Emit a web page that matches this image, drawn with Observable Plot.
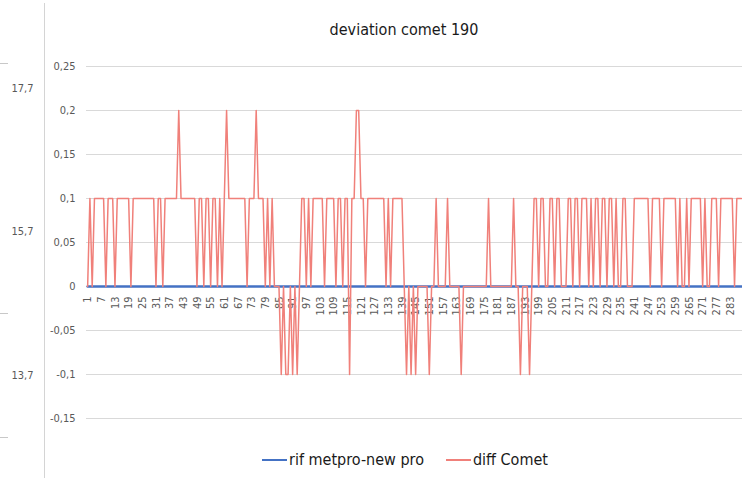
<!DOCTYPE html>
<html>
<head>
<meta charset="utf-8">
<script src="https://cdn.jsdelivr.net/npm/d3@7"></script>
<script src="https://cdn.jsdelivr.net/npm/@observablehq/plot@0.6"></script>
<style>
  html, body { margin: 0; padding: 0; background: #fff; }
  body { width: 742px; height: 478px; position: relative; overflow: hidden;
         font-family: "Liberation Sans Narrow", "DejaVu Sans Condensed", "Roboto", sans-serif; }
  #title { position: absolute; left: 0; top: 20px; width: 808px; text-align: center;
           font-size: 16px; line-height: 20px; color: #1a1a1a; }
  #chart { position: absolute; left: 0; top: 50px; }
  #vline { position: absolute; left: 44px; top: 3px; bottom: 0; width: 1px; background: #d4d4d4; }
  #legend { position: absolute; left: 0; top: 450px; width: 810px; display: flex;
            justify-content: center; gap: 22px; font-size: 16px; line-height: 20px; color: #1a1a1a; }
  .item { display: flex; align-items: center; gap: 2px; }
  .sw { width: 25px; height: 2.5px; }
  .dash { position: absolute; left: 0; width: 8px; height: 1px; background: #c8c8c8; }
</style>
</head>
<body>
<div id="vline"></div>
<div class="dash" style="top:63px"></div>
<div class="dash" style="top:313px"></div>
<div class="dash" style="top:437px"></div>
<div id="title">deviation comet 190</div>
<div id="chart"></div>
<div id="legend"></div>
<script>
// ---- data ----
const seriesNames = ["rif metpro-new pro", "diff Comet"];
const seriesColors = ["#4472c4", "#f0807a"];

// 288 values
const rifMetpro = [
0,0,0,0,0,0,0,0,0,0, 0,0,0,0,0,0,0,0,0,0, 0,0,0,0,0,0,0,0,0,0,
0,0,0,0,0,0,0,0,0,0, 0,0,0,0,0,0,0,0,0,0, 0,0,0,0,0,0,0,0,0,0,
0,0,0,0,0,0,0,0,0,0, 0,0,0,0,0,0,0,0,0,0, 0,0,0,0,0,0,0,0,0,0,
0,0,0,0,0,0,0,0,0,0, 0,0,0,0,0,0,0,0,0,0, 0,0,0,0,0,0,0,0,0,0,
0,0,0,0,0,0,0,0,0,0, 0,0,0,0,0,0,0,0,0,0, 0,0,0,0,0,0,0,0,0,0,
0,0,0,0,0,0,0,0,0,0, 0,0,0,0,0,0,0,0,0,0, 0,0,0,0,0,0,0,0,0,0,
0,0,0,0,0,0,0,0,0,0, 0,0,0,0,0,0,0,0,0,0, 0,0,0,0,0,0,0,0,0,0,
0,0,0,0,0,0,0,0,0,0, 0,0,0,0,0,0,0,0,0,0, 0,0,0,0,0,0,0,0,0,0,
0,0,0,0,0,0,0,0,0,0, 0,0,0,0,0,0,0,0,0,0, 0,0,0,0,0,0,0,0,0,0,
0,0,0,0,0,0,0,0,0,0, 0,0,0,0,0,0,0,0
];

// 288 values
const diffComet = [
0,.1,0,.1,.1,.1,.1,.1,0,.1,
.1,.1,0,.1,.1,.1,.1,.1,.1,0,
.1,.1,.1,.1,.1,.1,.1,.1,.1,.1,
0,.1,.1,0,.1,.1,.1,.1,.1,.1,
.2,.1,.1,.1,.1,.1,.1,.1,0,.1,
.1,0,.1,.1,0,.1,.1,0,.1,0,
.1,.2,.1,.1,.1,.1,.1,.1,.1,.1,
0,.1,.1,.1,.2,.1,.1,.1,0,.1,
0,.1,0,0,0,-.1,0,-.1,-.1,0,
-.1,0,-.1,0,.1,.1,0,.1,0,.1,
.1,.1,.1,.1,0,.1,.1,.1,.1,0,
.1,.1,0,.1,.1,-.1,.1,.1,.2,.2,
.1,.1,0,.1,.1,.1,.1,.1,.1,.1,
.1,0,.1,0,.1,.1,.1,.1,.1,0,
-.1,0,-.1,0,-.1,0,0,0,0,0,
-.1,0,0,.1,0,0,0,0,.1,0,
0,0,0,0,-.1,0,0,0,0,0,
0,0,0,0,0,0,.1,0,0,0,
0,0,0,0,0,0,0,.1,0,0,
-.1,0,0,0,-.1,0,.1,.1,0,.1,
.1,0,0,.1,.1,0,.1,.1,0,0,
0,.1,.1,0,.1,.1,0,.1,.1,.1,
0,.1,0,.1,.1,0,.1,.1,0,.1,
.1,0,.1,0,0,.1,.1,0,0,0,
.1,.1,.1,.1,.1,.1,.1,0,.1,.1,
.1,.1,0,.1,.1,.1,.1,.1,.1,0,
.1,0,0,.1,0,.1,.1,.1,.1,.1,
0,.1,0,0,.1,.1,.1,0,.1,.1,
.1,.1,.1,.1,0,.1,.1,.1
];

const xTickLabels = [1,7,13,19,25,31,37,43,49,55,61,67,73,79,85,91,97,103,109,115,121,127,133,139,
  145,151,157,163,169,175,181,187,193,199,205,211,217,223,229,235,241,247,253,259,265,271,277,283];
const yTicks = [-0.15, -0.1, -0.05, 0, 0.05, 0.1, 0.15, 0.2, 0.25];
const yDomain = [-0.15, 0.25];
// partially visible secondary axis of a chart behind (left edge)
const secondaryTicks = [13.7, 15.7, 17.7];
const secondaryDomain = [13.1, 18.0];

// ---- build ----
const categories = diffComet.map((_, i) => i + 1);
const rows = categories.map((c, i) => ({cat: c, rif: rifMetpro[i], diff: diffComet[i]}));
const comma = d => String(+d.toFixed(2)).replace(".", ",");
const toPrimary = d3.scaleLinear().domain(secondaryDomain).range(yDomain);

const chart = Plot.plot({
  width: 742,
  height: 390,
  marginLeft: 86,
  marginRight: 0,
  marginTop: 16,
  marginBottom: 22,
  style: {fontFamily: '"Liberation Sans Narrow", "DejaVu Sans Condensed", Roboto, sans-serif', background: "transparent"},
  x: {domain: [0.5, categories.length + 0.5], axis: null},
  y: {domain: yDomain, axis: null},
  marks: [
    Plot.gridY(yTicks, {stroke: "#d9d9d9", strokeOpacity: 1}),
    Plot.axisY(yTicks, {tickSize: 0, tickPadding: 11, tickFormat: comma, fontSize: 11, fill: "#595959"}),
    Plot.text(secondaryTicks, {y: d => toPrimary(d), frameAnchor: "left", dx: -53, textAnchor: "end",
      text: d => comma(d), fontSize: 11, fill: "#595959"}),
    Plot.text(xTickLabels, {x: d => d, y: () => 0, text: d => String(d), rotate: -90, textAnchor: "end",
      dy: 10, fontSize: 11, fill: "#595959"}),
    Plot.line(rows, {x: "cat", y: "rif", stroke: seriesColors[0], strokeWidth: 2.5}),
    Plot.line(rows, {x: "cat", y: "diff", stroke: seriesColors[1], strokeWidth: 1.5})
  ]
});
document.getElementById("chart").appendChild(chart);

const legend = document.getElementById("legend");
seriesNames.forEach((name, i) => {
  const it = document.createElement("div");
  it.className = "item";
  const sw = document.createElement("div");
  sw.className = "sw";
  sw.style.background = seriesColors[i];
  const tx = document.createElement("span");
  tx.textContent = name;
  it.appendChild(sw);
  it.appendChild(tx);
  legend.appendChild(it);
});
</script>
</body>
</html>
